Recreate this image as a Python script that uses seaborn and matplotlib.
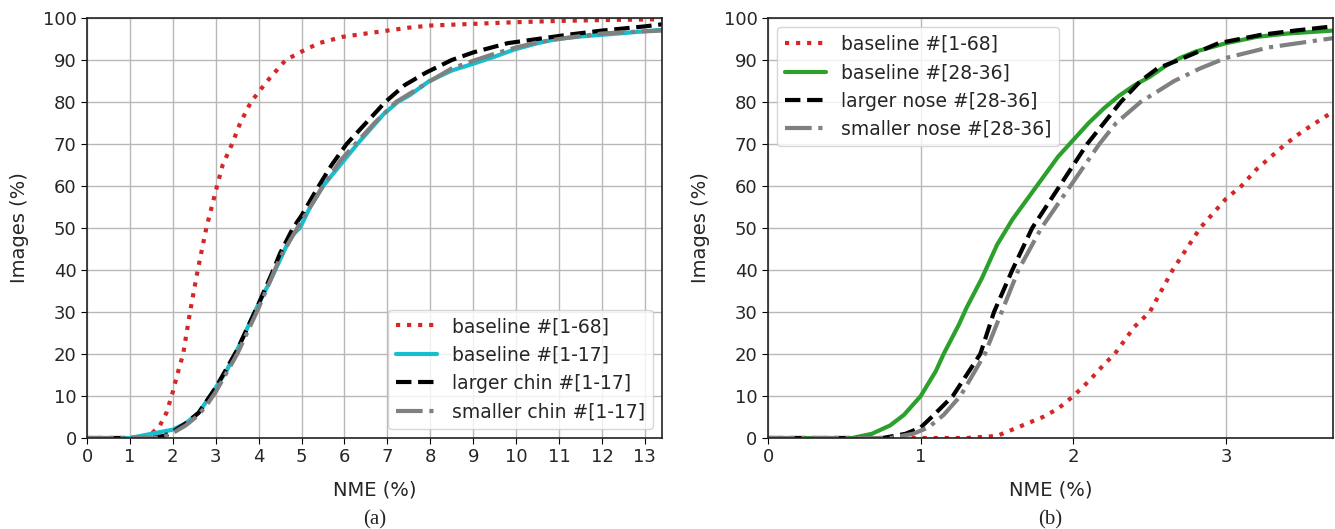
import matplotlib
matplotlib.use("Agg")
import matplotlib.pyplot as plt
import seaborn as sns

# (a) chin landmarks
a_red_x = [0, 1.0, 1.3, 1.5, 1.7, 1.85, 2.0, 2.1, 2.24, 2.4, 2.58, 2.78, 3.03, 3.16, 3.38, 3.57, 3.82,
           4.2, 4.63, 5.0, 5.4, 5.95, 6.5, 7.0, 7.5, 8.0, 9.0, 10.0, 11.0, 12.0, 13.4]
a_red_y = [0, 0, 0.2, 1, 3, 6, 11, 15, 20, 30, 40, 50, 60, 65, 70, 75, 80,
           85, 90, 92, 94, 95.5, 96.3, 97, 97.7, 98.2, 98.6, 99, 99.3, 99.5, 99.7]

a_cyan_x = [0, 1.0, 1.5, 2.0, 2.3, 2.6, 2.8, 3.0, 3.25, 3.5, 3.75, 4.0, 4.25, 4.5, 4.75, 4.96, 5.2, 5.5,
            5.9, 6.3, 6.9, 7.24, 7.5, 7.98, 8.5, 8.97, 9.5, 9.96, 10.5, 10.95, 11.5, 12.0, 12.5, 13.4]
a_cyan_y = [0, 0, 1, 2, 3.5, 6, 9, 12, 16, 21, 26.5, 32, 37, 42.5, 48, 50, 55, 60,
            65, 70, 77, 80, 81.5, 85, 87.5, 89, 90.8, 92.5, 94, 95, 95.6, 96, 96.4, 97.2]

a_black_x = [0, 1.5, 1.8, 2.0, 2.3, 2.6, 2.8, 3.0, 3.5, 4.0, 4.3, 4.5, 4.8, 5.0, 5.4, 5.7, 6.05, 6.5,
             6.95, 7.4, 7.9, 8.5, 9.0, 9.8, 10.5, 11.2, 12.0, 12.5, 13.0, 13.4]
a_black_y = [0, 0, 0.5, 1.5, 3.5, 6, 9, 12, 21, 32, 39, 44, 50, 53, 60, 65, 70, 75,
             80, 84, 87, 90, 91.8, 94, 95, 96, 97, 97.5, 98, 98.5]

a_gray_x = [0, 1.5, 1.8, 2.0, 2.3, 2.6, 2.8, 3.0, 3.5, 4.0, 4.5, 4.9, 5.2, 5.5, 5.9, 6.25, 6.7, 7.2,
            7.6, 8.0, 8.5, 9.0, 9.5, 10.0, 10.5, 11.0, 11.5, 12.0, 12.5, 13.4]
a_gray_y = [0, 0, 0.3, 1.2, 3, 5.5, 8, 11, 20, 31, 43, 50, 55, 60, 66, 70, 75, 80,
            82.5, 85, 88, 89.8, 91.5, 93, 94.2, 95, 95.7, 96.3, 96.6, 97]

# (b) nose landmarks
b_red_x = [0, 1.3, 1.5, 1.6, 1.7, 1.8, 1.9, 2.0, 2.1, 2.2, 2.27, 2.4, 2.5, 2.65, 2.83, 3.0, 3.1,
           3.2, 3.39, 3.5, 3.67, 3.7]
b_red_y = [0, 0, 0.5, 2, 3.5, 5, 7, 10, 13.5, 17.5, 20, 26.5, 30, 40, 50, 57, 60,
           64, 70, 73, 77, 77.5]

b_green_x = [0, 0.55, 0.68, 0.8, 0.89, 1.0, 1.1, 1.15, 1.25, 1.3, 1.4, 1.45, 1.5, 1.6, 1.7, 1.8,
             1.9, 1.95, 2.0, 2.1, 2.2, 2.3, 2.4, 2.5, 2.6, 2.7, 2.8, 3.0, 3.2, 3.4, 3.7]
b_green_y = [0, 0, 1, 3, 5.5, 10, 16, 20, 27, 31, 38, 42, 46, 52, 57, 62,
             67, 69, 71, 75, 78.5, 81.5, 84, 86, 88.5, 90.5, 92, 94, 95.5, 96.3, 97]

b_black_x = [0, 0.75, 0.9, 1.0, 1.1, 1.21, 1.3, 1.39, 1.48, 1.6, 1.73, 1.91, 2.0, 2.09, 2.2, 2.31,
             2.44, 2.55, 2.69, 2.95, 3.23, 3.45, 3.7]
b_black_y = [0, 0, 1, 2.5, 6, 10, 15, 20, 30, 40, 50, 60, 65, 70, 75, 80,
             85, 88, 90, 94, 96, 97, 98]

b_gray_x = [0, 0.8, 0.95, 1.05, 1.15, 1.26, 1.42, 1.53, 1.64, 1.79, 1.98, 2.17, 2.28, 2.44, 2.66,
            2.83, 3.0, 3.28, 3.7]
b_gray_y = [0, 0, 1, 2.5, 5.5, 10, 20, 30, 40, 50, 60, 70, 75, 80, 85,
            88, 90.5, 93, 95.2]

sns.set_style("ticks")
plt.rcParams['font.family'] = ['DejaVu Sans']

fig = plt.figure(figsize=(13.35, 5.29), dpi=100)
ax1 = fig.add_axes([0.0652, 0.172, 0.4307, 0.794])
ax2 = fig.add_axes([0.5753, 0.172, 0.4232, 0.794])

lw = 3
sns.lineplot(x=a_red_x, y=a_red_y, ax=ax1, color='#d62728', linestyle=':', lw=lw, label='baseline #[1-68]')
sns.lineplot(x=a_cyan_x, y=a_cyan_y, ax=ax1, color='#17becf', linestyle='-', lw=lw, label='baseline #[1-17]')
sns.lineplot(x=a_black_x, y=a_black_y, ax=ax1, color='black', linestyle='--', lw=lw, label='larger chin #[1-17]')
sns.lineplot(x=a_gray_x, y=a_gray_y, ax=ax1, color='#808080', linestyle='-.', lw=lw, label='smaller chin #[1-17]')

sns.lineplot(x=b_red_x, y=b_red_y, ax=ax2, color='#d62728', linestyle=':', lw=lw, label='baseline #[1-68]')
sns.lineplot(x=b_green_x, y=b_green_y, ax=ax2, color='#2ca02c', linestyle='-', lw=lw, label='baseline #[28-36]')
sns.lineplot(x=b_black_x, y=b_black_y, ax=ax2, color='black', linestyle='--', lw=lw, label='larger nose #[28-36]')
sns.lineplot(x=b_gray_x, y=b_gray_y, ax=ax2, color='#808080', linestyle='-.', lw=lw, label='smaller nose #[28-36]')

for ax, xmax, xt in [(ax1, 13.4, range(0, 14)), (ax2, 3.7, range(0, 4))]:
    ax.set_xlim(0, xmax)
    ax.set_ylim(0, 100)
    ax.set_xticks(list(xt))
    ax.set_yticks(range(0, 101, 10))
    ax.grid(True, color='#b8b8b8', lw=1)
    ax.tick_params(labelsize=13, length=4, color='black')
    for s in ax.spines.values():
        s.set_color('#222222')
        s.set_linewidth(1.2)
    ax.set_xlabel('NME (%)', fontsize=14, labelpad=10)
    ax.set_ylabel('Images (%)', fontsize=14, labelpad=10)

ax1.legend(loc='lower right', fontsize=13.5, handlelength=2.2)
ax2.legend(loc='upper left', fontsize=13.5, handlelength=2.2)

fig.text(0.281, 0.008, '(a)', ha='center', fontsize=15, family='Liberation Serif')
fig.text(0.787, 0.008, '(b)', ha='center', fontsize=15, family='Liberation Serif')

fig.savefig('out.png', dpi=100)
